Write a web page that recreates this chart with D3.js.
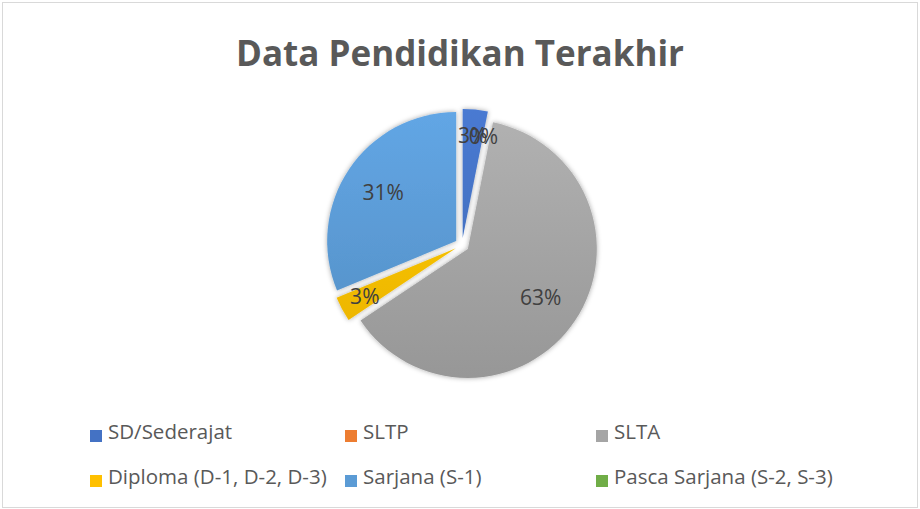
<!DOCTYPE html>
<html>
<head>
<meta charset="utf-8">
<script src="https://cdn.jsdelivr.net/npm/d3@7"></script>
<style>
  body { margin: 0; background: #fff; }
  svg text { font-family: "Open Sans", "Noto Sans", sans-serif; }
</style>
</head>
<body>
<div id="chart"></div>
<script>
// data
const categories = ["SD/Sederajat", "SLTP", "SLTA", "Diploma (D-1, D-2, D-3)", "Sarjana (S-1)", "Pasca Sarjana (S-2, S-3)"];
const counts = [1, 0, 20, 1, 10, 0];
const colors = ["#4472C4", "#ED7D31", "#A5A5A5", "#FFC000", "#5B9BD5", "#70AD47"];
const showLabel = [true, true, true, true, true, false];

const W = 920, H = 509;
const cx = 462, cy = 245, r = 129, explode = 7;

const svg = d3.select("#chart").append("svg")
    .attr("width", W)
    .attr("height", H);

const defs = svg.append("defs");

// soft shadow like office charts
const shadow = defs.append("filter").attr("id", "shadow")
    .attr("x", "-20%").attr("y", "-20%").attr("width", "140%").attr("height", "140%");
shadow.append("feDropShadow")
    .attr("dx", 0).attr("dy", 0).attr("stdDeviation", 2.5)
    .attr("flood-color", "#000").attr("flood-opacity", 0.35);

colors.forEach((c, i) => {
    const g = defs.append("linearGradient").attr("id", "grad" + i)
        .attr("gradientUnits", "userSpaceOnUse")
        .attr("x1", 0).attr("y1", -r).attr("x2", 0).attr("y2", r);
    g.append("stop").attr("offset", "0%").attr("stop-color", d3.color(c).brighter(0.2));
    g.append("stop").attr("offset", "100%").attr("stop-color", d3.color(c).darker(0.25));
});

svg.append("rect")
    .attr("x", 2.5).attr("y", 2.5)
    .attr("width", W - 5).attr("height", H - 4)
    .attr("fill", "none")
    .attr("stroke", "#d9d9d9")
    .attr("stroke-width", 1);

// title
svg.append("text")
    .attr("x", 460)
    .attr("y", 66)
    .attr("text-anchor", "middle")
    .style("font-size", "35px")
    .style("font-weight", "bold")
    .style("fill", "#595959")
    .text("Data Pendidikan Terakhir");

const data = categories.map((c, i) => ({ name: c, value: counts[i], i }));
const total = d3.sum(counts);

const pie = d3.pie().sort(null).value(d => d.value);
const arcs = pie(data);
const arc = d3.arc().innerRadius(0).outerRadius(r);

const mid = a => (a.startAngle + a.endAngle) / 2;

const g = svg.append("g").attr("transform", `translate(${cx},${cy})`);

g.selectAll(".slice")
    .data(arcs.filter(a => a.data.value > 0))
    .enter().append("path")
    .attr("class", "slice")
    .attr("d", arc)
    .attr("transform", a => `translate(${Math.sin(mid(a)) * explode},${-Math.cos(mid(a)) * explode})`)
    .attr("fill", a => `url(#grad${a.data.i})`)
    .attr("filter", "url(#shadow)");

// data labels: small slices pushed further out
g.selectAll(".lbl")
    .data(arcs.filter(a => showLabel[a.data.i]))
    .enter().append("text")
    .attr("class", "lbl")
    .attr("transform", a => {
        const lr = (a.endAngle - a.startAngle) < 0.5 ? 0.8 * r + explode : 0.68 * r + explode;
        const m = mid(a);
        return `translate(${Math.sin(m) * lr},${-Math.cos(m) * lr})`;
    })
    .attr("text-anchor", "middle")
    .attr("dy", "0.35em")
    .style("font-size", "21px")
    .style("fill", "#404040")
    .text(a => Math.round(a.data.value / total * 100) + "%");

// legend
const legendCols = [90, 345, 596];
const legendRows = [439, 484];
const legend = svg.append("g");
const item = legend.selectAll(".item")
    .data(data)
    .enter().append("g")
    .attr("class", "item")
    .attr("transform", (d, i) => `translate(${legendCols[i % 3]},${legendRows[Math.floor(i / 3)]})`);

item.append("rect")
    .attr("x", 0).attr("y", -9)
    .attr("width", 12).attr("height", 12)
    .attr("fill", d => colors[d.i]);

item.append("text")
    .attr("x", 18)
    .style("font-size", "20.5px")
    .style("fill", "#595959")
    .text(d => d.name);
</script>
</body>
</html>
